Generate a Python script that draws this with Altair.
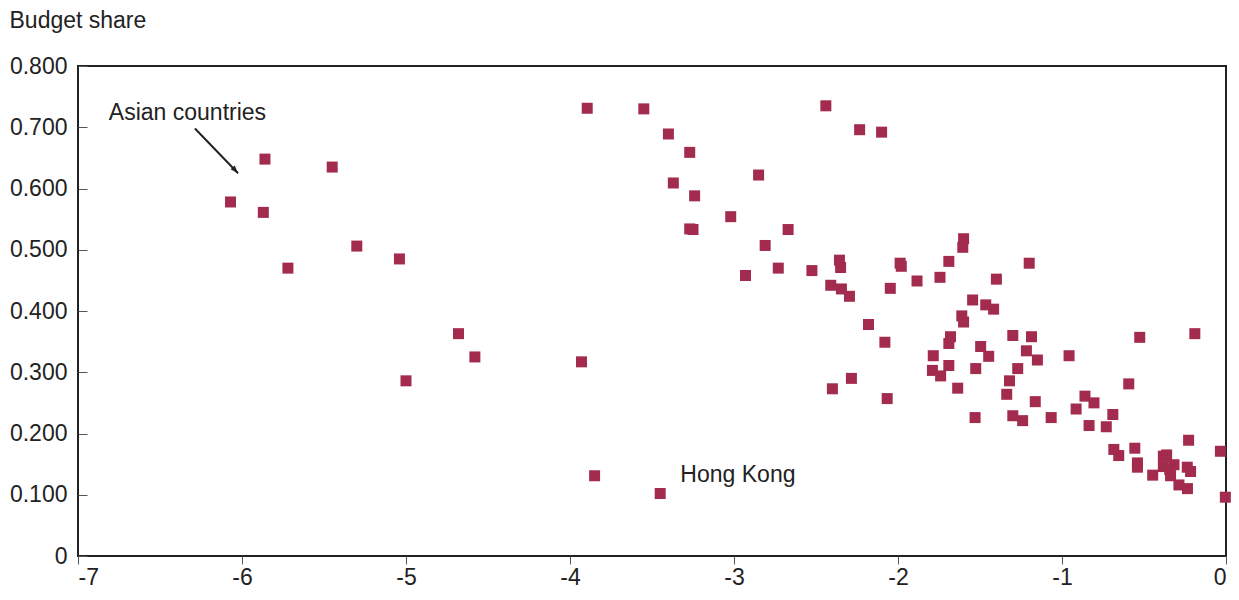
import altair as alt
import pandas as pd

# Log price (x) vs budget share (y)
x_vals = [
    -6.07, -5.86, -5.87, -5.72, -5.45, -5.30, -5.04, -5.00, -4.68, -4.58,
    -3.93, -3.85, -3.45,
    -3.895, -3.55, -3.40, -3.27, -3.37, -3.24, -2.85, -3.02, -3.27, -3.25,
    -2.67, -2.81, -2.93, -2.73, -2.525,
    -2.44, -2.234, -2.10, -1.60, -1.605, -2.357, -2.35, -1.987, -1.98, -1.69,
    -1.20, -2.41, -2.345, -2.296, -2.047, -1.884, -1.744, -1.40, -1.545,
    -1.465, -1.417, -1.611, -1.60, -2.18, -2.08, -1.68, -1.69, -1.30, -1.186,
    -0.526, -0.19, -1.496, -1.217,
    -1.785, -1.447, -1.15, -0.957, -1.79, -1.69, -1.74, -1.526, -1.27, -1.32,
    -2.284, -2.40, -2.066, -1.636, -1.337, -1.163, -1.53, -1.30, -1.24, -1.066,
    -0.593, -0.86, -0.805, -0.914, -0.69, -0.835, -0.73,
    -0.228, -0.684, -0.654, -0.556, -0.54, -0.54, -0.034, -0.004,
    -0.447, -0.382, -0.362, -0.382, -0.317, -0.338, -0.236, -0.216, -0.287,
    -0.235, -0.343,
]
y_vals = [
    0.578, 0.648, 0.561, 0.470, 0.635, 0.506, 0.485, 0.286, 0.363, 0.325,
    0.317, 0.131, 0.102,
    0.731, 0.730, 0.689, 0.659, 0.609, 0.588, 0.622, 0.554, 0.534, 0.533,
    0.533, 0.507, 0.458, 0.470, 0.466,
    0.735, 0.696, 0.692, 0.518, 0.504, 0.483, 0.471, 0.478, 0.473, 0.481,
    0.478, 0.442, 0.436, 0.424, 0.437, 0.449, 0.455, 0.452, 0.418,
    0.410, 0.403, 0.392, 0.382, 0.378, 0.349, 0.358, 0.347, 0.360, 0.358,
    0.357, 0.363, 0.342, 0.335,
    0.327, 0.326, 0.320, 0.327, 0.303, 0.311, 0.294, 0.306, 0.306, 0.286,
    0.290, 0.273, 0.257, 0.274, 0.264, 0.252, 0.226, 0.229, 0.221, 0.226,
    0.281, 0.261, 0.250, 0.240, 0.231, 0.213, 0.211,
    0.189, 0.174, 0.164, 0.176, 0.152, 0.145, 0.171, 0.096,
    0.132, 0.163, 0.165, 0.146, 0.149, 0.131, 0.145, 0.138, 0.116,
    0.110, 0.141,
]

label_texts = ["Asian countries", "Hong Kong"]
label_x = [-6.812, -3.327]
label_y = [0.712, 0.1207]

arrow_x = [-6.287, -6.024]
arrow_y = [0.698, 0.625]

x_ticks = [-7, -6, -5, -4, -3, -2, -1, 0]
y_ticks = [0, 0.1, 0.2, 0.3, 0.4, 0.5, 0.6, 0.7, 0.8]

FONT = "Liberation Sans"
FS = 23
MARK_COLOR = "#A22B4E"
INK = "#222222"

pts = pd.DataFrame({"x": x_vals, "y": y_vals})
labels = pd.DataFrame({"x": label_x, "y": label_y, "text": label_texts})
arrow = pd.DataFrame({"x": arrow_x, "y": arrow_y, "order": [0, 1]})
head = arrow.iloc[[1]]

xscale = alt.Scale(domain=[-7, 0], nice=False, zero=False)
yscale = alt.Scale(domain=[0, 0.8], nice=False, zero=False)

x_axis = alt.Axis(
    values=x_ticks, title=None, grid=False, domain=False,
    tickSize=8, tickColor="#555555", tickWidth=1,
    labelExpr="'' + datum.value", labelFont=FONT, labelFontSize=FS,
    labelColor=INK, labelPadding=2,
)
y_axis = alt.Axis(
    values=y_ticks, title="Budget share", grid=False, domain=False,
    offset=-9, tickSize=9, tickColor="#555555", tickWidth=1,
    labelExpr="datum.value == 0 ? '0' : format(datum.value, '.3f')",
    labelFont=FONT, labelFontSize=FS, labelColor=INK, labelPadding=11,
    titleAngle=0, titleAlign="left", titleBaseline="alphabetic",
    titleX=-78, titleY=-39, titleFont=FONT, titleFontSize=FS,
    titleFontWeight="normal", titleColor=INK,
)

points = alt.Chart(pts).mark_square(size=121, color=MARK_COLOR, opacity=1).encode(
    x=alt.X("x:Q", scale=xscale, axis=x_axis),
    y=alt.Y("y:Q", scale=yscale, axis=y_axis),
)

text = alt.Chart(labels).mark_text(
    align="left", baseline="alphabetic", font=FONT, fontSize=FS, color=INK
).encode(x=alt.X("x:Q", scale=xscale), y=alt.Y("y:Q", scale=yscale), text="text:N")

arrow_line = alt.Chart(arrow).mark_line(color=INK, strokeWidth=2).encode(
    x=alt.X("x:Q", scale=xscale), y=alt.Y("y:Q", scale=yscale), order="order:Q"
)

arrow_head = alt.Chart(head).mark_point(
    shape="M0,0L-0.5,1.4L0.5,1.4Z", filled=True, color=INK, opacity=1,
    size=130, angle=137,
).encode(x=alt.X("x:Q", scale=xscale), y=alt.Y("y:Q", scale=yscale))

chart = alt.layer(points, arrow_line, arrow_head, text).properties(
    width=1148, height=490,
    autosize=alt.AutoSizeParams(type="none"),
    padding={"left": 70, "top": 58, "right": 5, "bottom": 36},
).configure_view(stroke=INK, strokeWidth=2)

chart.save("out.html", embed_options={"renderer": "svg", "actions": False})
